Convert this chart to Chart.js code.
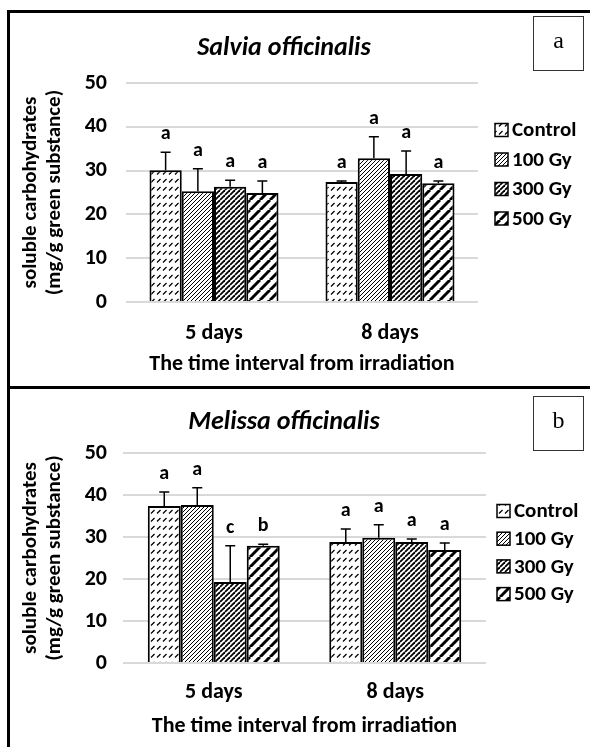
<!DOCTYPE html>
<html>
<head>
<meta charset="utf-8">
<script src="https://cdn.jsdelivr.net/npm/chart.js@4.4.0/dist/chart.umd.min.js"></script>
<style>
  html, body { margin: 0; padding: 0; background: #fff; }
  body { width: 590px; height: 747px; position: relative; overflow: hidden; }
  canvas { position: absolute; left: 0; }
  #chartA { top: 0; }
  #chartB { top: 387px; }
  .rule { position: absolute; background: #000; }
</style>
</head>
<body>
<canvas id="chartA" width="590" height="387"></canvas>
<canvas id="chartB" width="590" height="360"></canvas>
<div class="rule" style="left:7px; top:10px; width:583px; height:3px"></div>
<div class="rule" style="left:7px; top:386px; width:583px; height:3px"></div>
<div class="rule" style="left:7px; top:10px; width:3px; height:737px"></div>
<script>
// Chart data
const categories = ['5 days', '8 days'];
const doses = ['Control', '100 Gy', '300 Gy', '500 Gy'];
const yTicks = [0, 10, 20, 30, 40, 50];

// Salvia officinalis: one row per dose, one value per time interval
const salviaMeans = [
  [30.1, 27.4],
  [25.3, 32.8],
  [26.3, 29.2],
  [24.9, 27.1]
];
const salviaErrors = [
  [4.1, 0.2],
  [5.1, 4.9],
  [1.5, 5.3],
  [2.7, 0.5]
];
const salviaLetters = [
  ['a', 'a'],
  ['a', 'a'],
  ['a', 'a'],
  ['a', 'a']
];

// Melissa officinalis
const melissaMeans = [
  [37.4, 28.8],
  [37.6, 29.8],
  [19.3, 28.8],
  [27.9, 26.9]
];
const melissaErrors = [
  [3.3, 3.1],
  [4.1, 3.1],
  [8.6, 0.7],
  [0.4, 1.7]
];
const melissaLetters = [
  ['a', 'a'],
  ['a', 'a'],
  ['c', 'a'],
  ['b', 'a']
];

const FONT = 'Calibri, Carlito, Lato, sans-serif';
Chart.defaults.font.family = FONT;
Chart.defaults.color = '#000';

// Hatch fills, one per dose
function makePattern(w, h, draw) {
  const c = document.createElement('canvas');
  c.width = w;
  c.height = h;
  const g = c.getContext('2d');
  g.fillStyle = '#fff';
  g.fillRect(0, 0, w, h);
  g.strokeStyle = '#000';
  draw(g, w, h);
  return g.createPattern(c, 'repeat');
}

function diagonal(s, lw) {
  return makePattern(s, s, (g) => {
    g.lineWidth = lw;
    [-s, 0, s].forEach(k => {
      g.beginPath();
      g.moveTo(k, s);
      g.lineTo(k + s, 0);
      g.stroke();
    });
  });
}

const fills = [
  makePattern(6, 8, (g) => {
    g.lineWidth = 1.2;
    g.beginPath();
    g.moveTo(1, 6.5);
    g.lineTo(4.5, 3);
    g.stroke();
  }),
  diagonal(4, 1),
  diagonal(5, 1.8),
  diagonal(10, 3)
];

// Titles, error bars, significance letters, legend and panel tag
const annotate = {
  id: 'annotate',
  afterDatasetsDraw(chart, args, opts) {
    const ctx = chart.ctx;
    const y = chart.scales.y;
    ctx.save();
    chart.data.datasets.forEach((ds, i) => {
      chart.getDatasetMeta(i).data.forEach((bar, j) => {
        const top = y.getPixelForValue(ds.data[j] + opts.errors[i][j]);
        ctx.strokeStyle = '#000';
        ctx.lineWidth = 1.5;
        ctx.beginPath();
        ctx.moveTo(bar.x, bar.y);
        ctx.lineTo(bar.x, top);
        ctx.moveTo(bar.x - 5, top);
        ctx.lineTo(bar.x + 5, top);
        ctx.stroke();

        ctx.fillStyle = '#000';
        ctx.font = 'bold 20px ' + FONT;
        ctx.textAlign = 'center';
        ctx.textBaseline = 'middle';
        ctx.fillText(opts.letters[i][j], bar.x, top - 18);
      });
    });
    ctx.restore();
  },
  afterDraw(chart, args, opts) {
    const ctx = chart.ctx;
    ctx.save();
    ctx.fillStyle = '#000';
    ctx.textBaseline = 'middle';

    ctx.textAlign = 'center';
    ctx.font = 'italic bold 26px ' + FONT;
    ctx.fillText(opts.title, 284, opts.titleY);

    // legend
    ctx.textAlign = 'left';
    ctx.font = 'bold 21px ' + FONT;
    chart.data.datasets.forEach((ds, i) => {
      const cy = opts.legendY + i * opts.legendStep;
      ctx.fillStyle = ds.backgroundColor;
      ctx.fillRect(opts.legendX, cy - 6.5, 13, 13);
      ctx.strokeStyle = '#000';
      ctx.lineWidth = 1.5;
      ctx.strokeRect(opts.legendX, cy - 6.5, 13, 13);
      ctx.fillStyle = '#000';
      ctx.fillText(ds.label, opts.legendX + 17, cy + 1);
    });

    // panel tag
    ctx.strokeStyle = '#333';
    ctx.lineWidth = 1;
    ctx.strokeRect(533.5, opts.tagTop + 0.5, 50, 54);
    ctx.textAlign = 'center';
    ctx.font = '24px "Liberation Serif", serif';
    ctx.fillText(opts.tag, 558.5, opts.tagTop + 26);
    ctx.restore();
  }
};

function drawPanel(id, means, errors, letters, p) {
  new Chart(document.getElementById(id), {
    type: 'bar',
    data: {
      labels: categories,
      datasets: doses.map((d, i) => ({
        label: d,
        data: means[i],
        backgroundColor: fills[i],
        borderColor: '#000',
        borderWidth: 2,
        categoryPercentage: p.catPct,
        barPercentage: 1
      }))
    },
    options: {
      responsive: false,
      animation: false,
      layout: { padding: { left: 12, right: p.padRight, top: p.padTop, bottom: 0 } },
      plugins: {
        legend: { display: false },
        tooltip: { enabled: false },
        annotate: {
          title: p.title,
          titleY: p.titleY,
          tag: p.tag,
          tagTop: p.tagTop,
          legendX: p.legendX,
          legendY: p.legendY,
          legendStep: p.legendStep,
          errors: errors,
          letters: letters
        }
      },
      scales: {
        x: {
          grid: { display: false, drawTicks: false },
          border: { display: false },
          ticks: { font: { size: 22, weight: 'bold' }, padding: p.xTickPad },
          title: {
            display: true,
            text: 'The time interval from irradiation',
            font: { size: 22, weight: 'bold' },
            padding: { top: 0, bottom: p.xTitlePad }
          },
          afterFit: (s) => { s.height = p.xHeight; }
        },
        y: {
          min: yTicks[0],
          max: yTicks[yTicks.length - 1],
          ticks: {
            stepSize: yTicks[1] - yTicks[0],
            font: { size: 22, weight: 'bold' },
            padding: p.yTickPad
          },
          grid: { color: '#d9d9d9', lineWidth: 2, drawTicks: false },
          border: { display: false },
          title: {
            display: true,
            text: ['soluble carbohydrates', '(mg/g green substance)'],
            font: { size: 21, weight: 'bold', lineHeight: '24px' },
            padding: { top: 7, bottom: 0 }
          },
          afterFit: (s) => { s.width = p.yWidth; }
        }
      }
    },
    plugins: [annotate]
  });
}

drawPanel('chartA', salviaMeans, salviaErrors, salviaLetters, {
  title: 'Salvia officinalis', titleY: 48, tag: 'a', tagTop: 16,
  padRight: 112, padTop: 83, yWidth: 114, xHeight: 85,
  xTickPad: 18, xTitlePad: 9, yTickPad: 19, catPct: 0.733,
  legendX: 495, legendY: 130, legendStep: 29.5
});

drawPanel('chartB', melissaMeans, melissaErrors, melissaLetters, {
  title: 'Melissa officinalis', titleY: 35, tag: 'b', tagTop: 9,
  padRight: 104, padTop: 66, yWidth: 111, xHeight: 84,
  xTickPad: 16, xTitlePad: 7, yTickPad: 16, catPct: 0.727,
  legendX: 497, legendY: 124, legendStep: 27.7
});
</script>
</body>
</html>
